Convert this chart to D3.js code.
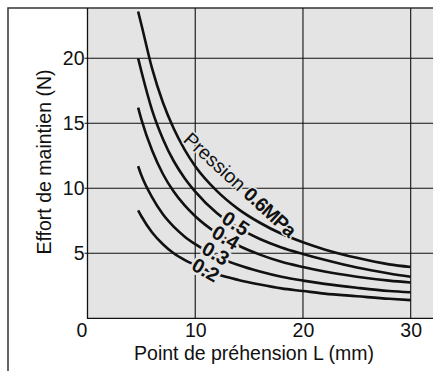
<!DOCTYPE html>
<html>
<head>
<meta charset="utf-8">
<script src="https://cdn.jsdelivr.net/npm/d3@7"></script>
<style>
  html, body { margin: 0; padding: 0; background: #fff; }
  svg { display: block; font-family: "Liberation Sans", Arial, Helvetica, sans-serif; }
</style>
</head>
<body>
<svg id="chart" width="433" height="371"></svg>
<script>
// Gripping point L (mm) where each curve is sampled
const gripPoint = [4.7, 5, 6, 7, 8, 9, 10, 12, 14, 16, 18, 20, 22, 25, 28, 30];

// Holding force (N) for each supply pressure (MPa)
const force06 = [23.6, 22.6, 19.2, 16.6, 14.6, 13.0, 11.7, 9.8, 8.4, 7.35, 6.5, 5.85, 5.3, 4.65, 4.15, 3.95];
const force05 = [20.0, 19.0, 16.0, 13.8, 12.1, 10.8, 9.75, 8.1, 6.95, 6.1, 5.45, 4.95, 4.5, 3.9, 3.45, 3.2];
const force04 = [16.2, 15.3, 12.9, 11.1, 9.75, 8.7, 7.85, 6.55, 5.6, 4.9, 4.35, 3.95, 3.6, 3.2, 2.9, 2.75];
const force03 = [11.7, 11.0, 9.3, 8.0, 7.05, 6.3, 5.7, 4.75, 4.1, 3.6, 3.2, 2.9, 2.65, 2.35, 2.1, 2.0];
const force02 = [8.3, 7.85, 6.6, 5.7, 5.0, 4.5, 4.1, 3.4, 2.95, 2.6, 2.3, 2.1, 1.9, 1.7, 1.5, 1.4];

const series = [force06, force05, force04, force03, force02];

// Tick values
const xTicks = [0, 10, 20, 30];
const yTicks = [5, 10, 15, 20];

// Curve labels: text, anchor position on the chart (L, N) and angle
const pressureLabels = ["0.5", "0.4", "0.3", "0.2"];
const pressureLabelL = [13.76, 12.83, 11.9, 10.97];
const pressureLabelN = [7.3, 6.23, 5.0, 3.72];
const pressureLabelAngle = [33, 31, 30, 29];

const W = 433, H = 371;
const bg = "#e4e4e4";
const svg = d3.select("#chart");

const x = d3.scaleLinear().domain([0, 30]).range([87.5, 410.7]);
const y = d3.scaleLinear().domain([0, 20]).range([318.3, 58.3]);
const plotTop = 8;

// plot background
svg.append("rect")
  .attr("x", x(0)).attr("y", plotTop)
  .attr("width", W - x(0)).attr("height", y(0) - plotTop)
  .attr("fill", bg);

// outer frame (top and left edges)
svg.append("path")
  .attr("d", `M8,${H} L8,${plotTop} L${W},${plotTop}`)
  .attr("fill", "none").attr("stroke", "#333").attr("stroke-width", 1.5);

// horizontal grid lines, with a short stub left of the axis
svg.append("g").selectAll("line").data(yTicks).join("line")
  .attr("x1", x(0) - 3).attr("x2", W)
  .attr("y1", d => y(d)).attr("y2", d => y(d))
  .attr("stroke", "#111").attr("stroke-width", 1.1);

// vertical grid lines
svg.append("g").selectAll("line").data(xTicks.slice(1)).join("line")
  .attr("x1", d => x(d)).attr("x2", d => x(d))
  .attr("y1", plotTop).attr("y2", y(0))
  .attr("stroke", "#111").attr("stroke-width", 1.1);

// axis lines
svg.append("path")
  .attr("d", `M${x(0)},${plotTop} L${x(0)},${y(0)} L${W},${y(0)}`)
  .attr("fill", "none").attr("stroke", "#111").attr("stroke-width", 1.3);

// axes tick labels
const xAxis = svg.append("g")
  .attr("transform", `translate(0,${y(0)})`)
  .call(d3.axisBottom(x).tickValues(xTicks).tickSize(0).tickPadding(5).tickFormat(d3.format("d")));
const yAxis = svg.append("g")
  .attr("transform", `translate(${x(0)},0)`)
  .call(d3.axisLeft(y).tickValues(yTicks).tickSize(3).tickPadding(0).tickFormat(d3.format("d")));
[xAxis, yAxis].forEach(g => {
  g.select(".domain").remove();
  g.selectAll("line").remove();
  g.selectAll("text").attr("fill", "#111").style("font-size", "19.5px").style("font-family", "'Liberation Sans', Arial, sans-serif");
});
xAxis.selectAll("text").filter(d => d === 0).attr("dx", -6);

// axis titles
svg.append("text")
  .attr("x", 254).attr("y", 360)
  .attr("text-anchor", "middle")
  .attr("fill", "#111").style("font-size", "19.5px")
  .text("Point de préhension L (mm)");
svg.append("text")
  .attr("transform", "translate(51,162) rotate(-90)")
  .attr("text-anchor", "middle")
  .attr("fill", "#111").style("font-size", "19.5px")
  .text("Effort de maintien (N)");

// curves
const line = d3.line()
  .x((d, i) => x(gripPoint[i]))
  .y(d => y(d))
  .curve(d3.curveMonotoneX);
svg.append("g").selectAll("path").data(series).join("path")
  .attr("d", d => line(d))
  .attr("fill", "none").attr("stroke", "#111")
  .attr("stroke-width", 2.6).attr("stroke-linecap", "butt");

// pressure labels, haloed with the background colour so the curves break
const labels = svg.append("g")
  .style("font-size", "20px").style("font-weight", "bold")
  .attr("fill", "#111");
pressureLabels.forEach((t, i) => {
  labels.append("text")
    .attr("transform", `translate(${x(pressureLabelL[i])},${y(pressureLabelN[i])}) rotate(${pressureLabelAngle[i]})`)
    .attr("text-anchor", "middle").attr("dy", "0.35em")
    .attr("stroke", bg).attr("stroke-width", 5).attr("paint-order", "stroke")
    .attr("stroke-linejoin", "round")
    .text(t);
});

const pLabel = svg.append("text")
  .attr("transform", `translate(${x(14.15)},${y(10.3)}) rotate(42.5)`)
  .attr("text-anchor", "middle").attr("dy", "0.35em")
  .attr("fill", "#111").style("font-size", "19.5px")
  .attr("stroke", bg).attr("stroke-width", 3).attr("paint-order", "stroke")
  .attr("stroke-linejoin", "round");
pLabel.append("tspan").text("Pression ");
pLabel.append("tspan").style("font-weight", "bold").attr("letter-spacing", "-0.8").text("0.6MPa");
</script>
</body>
</html>
